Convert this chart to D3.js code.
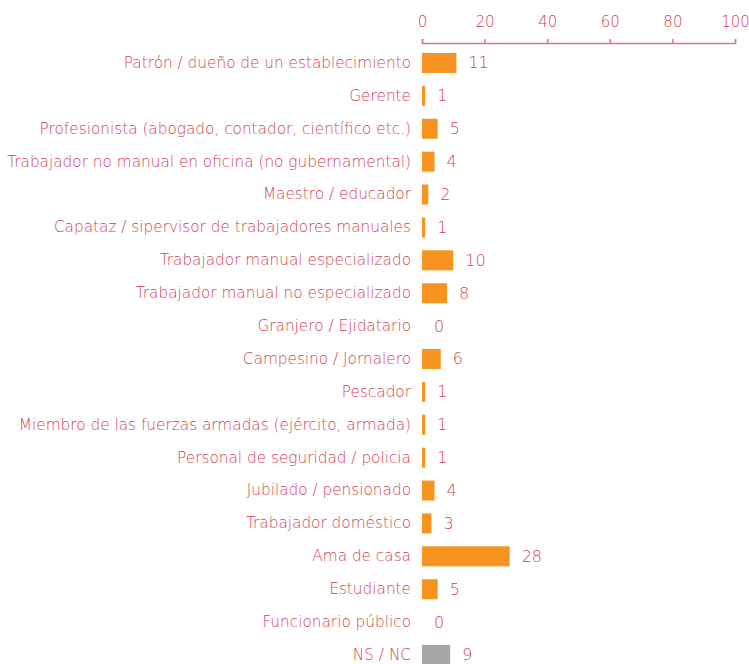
<!DOCTYPE html>
<head>
  <meta charset="utf-8">
  <title>Ocupación</title>
  <script src="https://cdn.jsdelivr.net/npm/d3@7/dist/d3.min.js"></script>
  <style>
  body { margin: 0; background: #fff; }
  text { font-family: "DejaVu Sans", sans-serif; font-weight: 200; fill: #d23f57; }
  .axis path, .axis line { stroke: #df7484; stroke-width: 1.5px; }
  .axis text { font-size: 15px; }
  .label { font-size: 15.3px; }
  .value { font-size: 16px; }
  </style>
</head>
<body>
  <script type="text/javascript">
    var WIDTH = 749;
    var HEIGHT = 664;

    var categories = [
      "Patrón / dueño de un establecimiento",
      "Gerente",
      "Profesionista (abogado, contador, científico etc.)",
      "Trabajador no manual en oficina (no gubernamental)",
      "Maestro / educador",
      "Capataz / sipervisor de trabajadores manuales",
      "Trabajador manual especializado",
      "Trabajador manual no especializado",
      "Granjero / Ejidatario",
      "Campesino / Jornalero",
      "Pescador",
      "Miembro de las fuerzas armadas (ejército, armada)",
      "Personal de seguridad / policia",
      "Jubilado / pensionado",
      "Trabajador doméstico",
      "Ama de casa",
      "Estudiante",
      "Funcionario público",
      "NS / NC"
    ];
    var values = [11, 1, 5, 4, 2, 1, 10, 8, 0, 6, 1, 1, 1, 4, 3, 28, 5, 0, 9];
    var ticks = [0, 20, 40, 60, 80, 100];

    var svg = d3.select("body").append("svg")
                .attr("width", WIDTH)
                .attr("height", HEIGHT);

    var x = d3.scaleLinear().domain([0, 100]).range([422, 735]);
    var y = d3.scalePoint().domain(categories).range([63, 655]);
    var barH = 20;

    // axis on top
    svg.append("g")
      .attr("class", "axis")
      .attr("transform", "translate(0,43)")
      .call(d3.axisTop(x).tickValues(ticks).tickSize(4).tickSizeOuter(4).tickPadding(12))
      .call(function(g){ g.selectAll("text").attr("fill", "#d23f57").style("font-family", null); });

    // category labels
    svg.append("g").selectAll("text")
      .data(categories)
      .enter()
      .append("text")
      .attr("class", "label")
      .attr("x", 411)
      .attr("y", function(d){ return y(d); })
      .attr("dy", "0.32em")
      .attr("text-anchor", "end")
      .text(function(d){ return d; });

    // bars
    svg.append("g").selectAll("rect")
      .data(values)
      .enter()
      .append("rect")
      .attr("x", x(0))
      .attr("y", function(d, i){ return y(categories[i]) - barH / 2; })
      .attr("width", function(d){ return x(d) - x(0); })
      .attr("height", barH)
      .attr("fill", function(d, i){ return categories[i] === "NS / NC" ? "#a6a8a8" : "#f7941f"; });

    // values
    svg.append("g").selectAll("text")
      .data(values)
      .enter()
      .append("text")
      .attr("class", "value")
      .attr("x", function(d){ return x(d) + 12; })
      .attr("y", function(d, i){ return y(categories[i]); })
      .attr("dy", "0.34em")
      .text(function(d){ return d; });
  </script>
</body>
